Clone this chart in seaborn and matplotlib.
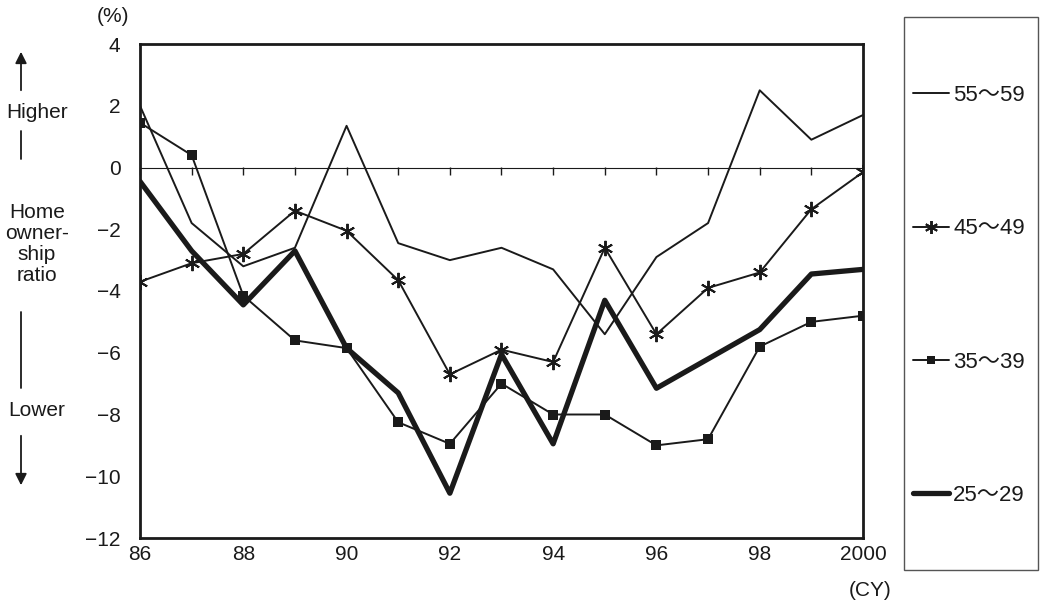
import matplotlib
matplotlib.use('Agg')
import matplotlib.pyplot as plt
from matplotlib.patches import Rectangle, FancyArrowPatch
from matplotlib.lines import Line2D
import pandas as pd
import seaborn as sns

# data (difference in home ownership ratio, %)
years = [1986, 1987, 1988, 1989, 1990, 1991, 1992, 1993, 1994, 1995, 1996, 1997, 1998, 1999, 2000]
age_55_59 = [2.0, -1.8, -3.2, -2.6, 1.35, -2.45, -3.0, -2.6, -3.3, -5.4, -2.9, -1.8, 2.5, 0.9, 1.7]
age_45_49 = [-3.7, -3.1, -2.8, -1.4, -2.05, -3.65, -6.7, -5.9, -6.3, -2.6, -5.4, -3.9, -3.4, -1.35, -0.15]
age_35_39 = [1.45, 0.4, -4.15, -5.6, -5.85, -8.25, -8.95, -7.0, -8.0, -8.0, -9.0, -8.8, -5.8, -5.0, -4.8]
age_25_29 = [-0.45, -2.7, -4.45, -2.7, -5.85, -7.3, -10.55, -6.05, -8.95, -4.3, -7.15, -6.2, -5.25, -3.45, -3.3]

labels = ['55\u301c59', '45\u301c49', '35\u301c39', '25\u301c29']
xtick_years = [1986, 1988, 1990, 1992, 1994, 1996, 1998, 2000]
xtick_labels = ['86', '88', '90', '92', '94', '96', '98', '2000']
yticks = [4, 2, 0, -2, -4, -6, -8, -10, -12]

W, H = 1041, 611

sns.set_style('white')
plt.rcParams['font.family'] = ['Liberation Sans', 'Noto Sans CJK JP', 'DejaVu Sans']
plt.rcParams['axes.unicode_minus'] = True

ink = '#1a1a1a'
fs = 15

df = pd.DataFrame({'year': years, labels[0]: age_55_59, labels[1]: age_45_49,
                   labels[2]: age_35_39, labels[3]: age_25_29})

fig = plt.figure(figsize=(W / 100, H / 100), dpi=100)


def fx(px):
    return px / W


def fy(py):
    return 1 - py / H


ax = fig.add_axes([fx(140), fy(538), fx(863) - fx(140), fy(44) - fy(538)])

styles = {
    labels[0]: dict(lw=1.4, marker=None, ms=0, mew=0),
    labels[1]: dict(lw=1.4, marker=(6, 2, 0), ms=11, mew=1.4),
    labels[2]: dict(lw=1.4, marker='s', ms=6.5, mew=0),
    labels[3]: dict(lw=3.8, marker=None, ms=0, mew=0),
}

handles = []
for name in labels:
    st = styles[name]
    sns.lineplot(data=df, x='year', y=name, ax=ax, color=ink, linewidth=st['lw'],
                 marker=st['marker'], markersize=st['ms'], markeredgewidth=st['mew'],
                 markeredgecolor=ink, markerfacecolor=ink)
    handles.append(Line2D([], [], color=ink, lw=st['lw'], marker=st['marker'],
                          markersize=st['ms'] * 0.85, markeredgewidth=st['mew'],
                          markeredgecolor=ink, markerfacecolor=ink))

ax.axhline(0, color=ink, lw=0.8, zorder=1)

ax.set_xlim(1986, 2000)
ax.set_ylim(-12, 4)
ax.set_xticks(xtick_years)
ax.set_xticklabels(xtick_labels)
ax.set_yticks(yticks)
ax.tick_params(axis='x', length=0, pad=5, labelsize=fs, colors=ink)
ax.tick_params(axis='y', direction='in', length=6, width=1, pad=14, labelsize=fs, colors=ink)
ax.set_xlabel('')
ax.set_ylabel('')
for s in ax.spines.values():
    s.set_visible(True)
    s.set_color(ink)
    s.set_linewidth(2)

# year ticks sitting on the zero line
sec = ax.secondary_xaxis(12 / 16)
sec.set_xticks(years)
sec.tick_params(axis='x', direction='in', length=6, width=1, labelbottom=False,
                labeltop=False, colors=ink)
sec.spines['bottom'].set_visible(False)
sec.spines['top'].set_visible(False)

fig.text(fx(870), fy(591), '(CY)', ha='center', va='center', fontsize=fs, color=ink)
fig.text(fx(113), fy(17), '(%)', ha='center', va='center', fontsize=fs, color=ink)

# left-side annotation
cx = fx(37)
ax_x = fx(21)
fig.text(cx, fy(113), 'Higher', ha='center', va='center', fontsize=fs, color=ink)
fig.text(cx, fy(244), 'Home\nowner-\nship\nratio', ha='center', va='center',
         fontsize=fs, color=ink, linespacing=1.15)
fig.text(cx, fy(410), 'Lower', ha='center', va='center', fontsize=fs, color=ink)
fig.add_artist(Line2D([ax_x, ax_x], [fy(131), fy(159)], color=ink, lw=1.3))
fig.add_artist(Line2D([ax_x, ax_x], [fy(312), fy(388)], color=ink, lw=1.3))
fig.patches.append(FancyArrowPatch(
    (ax_x, fy(93)), (ax_x, fy(49)), transform=fig.transFigure, arrowstyle='-|>',
    mutation_scale=17, color=ink, lw=1.3))
fig.patches.append(FancyArrowPatch(
    (ax_x, fy(433)), (ax_x, fy(488)), transform=fig.transFigure, arrowstyle='-|>',
    mutation_scale=17, color=ink, lw=1.3))

# legend box
fig.patches.append(Rectangle((fx(904), fy(570)), fx(1038) - fx(904), fy(17) - fy(570),
                             transform=fig.transFigure, fill=False, edgecolor='#555555', lw=1))
fig.legend(handles, labels, loc='center left', bbox_to_anchor=(fx(902), fy(295.5)),
           frameon=False, borderpad=0, labelspacing=5.05, handlelength=1.6,
           handletextpad=0.2, fontsize=16, labelcolor=ink)

fig.savefig('out.png', dpi=100)
